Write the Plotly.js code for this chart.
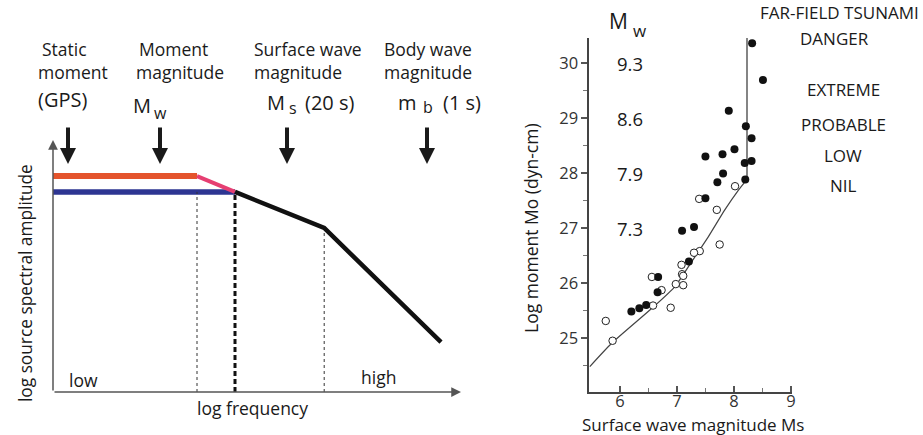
<!DOCTYPE html>
<html>
<head>
<meta charset="utf-8">
<script src="https://cdn.plot.ly/plotly-3.0.1.min.js"></script>
<style>html,body{margin:0;padding:0;background:#fff;}#chart{width:923px;height:435px;}</style>
</head>
<body>
<div id="chart"></div>
<script>
// ---------- Right panel data: Log moment vs surface wave magnitude ----------
const msFilled = [8.32, 8.51, 7.91, 8.21, 8.31, 8.01, 7.80, 7.50, 8.31, 8.19, 7.81, 7.71, 8.20, 7.50, 7.09, 7.30, 7.21, 6.67, 6.66, 6.46, 6.34, 6.20];
const moFilled = [30.36, 29.69, 29.13, 28.85, 28.63, 28.43, 28.34, 28.30, 28.22, 28.18, 27.99, 27.83, 27.88, 27.54, 26.95, 27.02, 26.39, 26.11, 25.83, 25.60, 25.54, 25.48];
const msOpen = [7.39, 8.02, 7.70, 7.75, 7.40, 7.30, 7.08, 7.09, 7.11, 6.98, 7.11, 6.56, 6.73, 6.58, 6.89, 5.75, 5.87];
const moOpen = [27.53, 27.76, 27.33, 26.70, 26.58, 26.55, 26.33, 26.16, 26.13, 25.98, 25.96, 26.11, 25.87, 25.59, 25.55, 25.31, 24.95];
const msCurve = [5.47, 5.85, 6.56, 6.96, 7.26, 7.55, 7.84, 8.08, 8.24];
const moCurve = [24.48, 24.90, 25.54, 25.93, 26.39, 26.84, 27.33, 27.69, 27.90];
const msLimit = [8.23, 8.23];
const moLimit = [27.90, 30.6];
const mwText = ['9.3', '8.6', '7.9', '7.3'];
const mwAtMo = [30, 29, 28, 27];
const xTicks = [6, 7, 8, 9];
const yTicks = [25, 26, 27, 28, 29, 30];
const dangerLabels = ['EXTREME', 'PROBABLE', 'LOW', 'NIL'];

// ---------- Left panel schematic (arbitrary units) ----------
const redX = [0, 3.6],  redY = [8.74, 8.74];
const pinkX = [3.6, 4.55], pinkY = [8.74, 8.10];
const blueX = [0, 4.55], blueY = [8.10, 8.10];
const blackX = [4.55, 6.78, 9.7], blackY = [8.10, 6.64, 2.02];
const cornerX = [3.6, 4.55, 6.78];
const cornerTop = [8.10, 8.10, 6.64];
const arrowX = [0.375, 2.675, 5.85, 9.35];

const W = 923, H = 435;
const px = v => v / W;
const py = v => 1 - v / H;
const FONT = 'Open Sans, sans-serif';
const TXT = '#1a1a1a';

const traces = [
  {x: blueX, y: blueY, xaxis: 'x2', yaxis: 'y2', mode: 'lines', line: {color: '#2d3592', width: 5.5}, hoverinfo: 'skip'},
  {x: redX, y: redY, xaxis: 'x2', yaxis: 'y2', mode: 'lines', line: {color: '#e4542c', width: 6}, hoverinfo: 'skip'},
  {x: pinkX, y: pinkY, xaxis: 'x2', yaxis: 'y2', mode: 'lines', line: {color: '#e63f72', width: 4}, hoverinfo: 'skip'},
  {x: [cornerX[0], cornerX[0]], y: [0, cornerTop[0]], xaxis: 'x2', yaxis: 'y2', mode: 'lines', line: {color: '#333', width: 1, dash: '3px,3px'}, hoverinfo: 'skip'},
  {x: [cornerX[1], cornerX[1]], y: [0, cornerTop[1]], xaxis: 'x2', yaxis: 'y2', mode: 'lines', line: {color: '#111', width: 3, dash: '5px,3px'}, hoverinfo: 'skip'},
  {x: [cornerX[2], cornerX[2]], y: [0, cornerTop[2]], xaxis: 'x2', yaxis: 'y2', mode: 'lines', line: {color: '#333', width: 1, dash: '3px,3px'}, hoverinfo: 'skip'},
  {x: blackX, y: blackY, xaxis: 'x2', yaxis: 'y2', mode: 'lines', line: {color: '#111', width: 4.5}, hoverinfo: 'skip'},

  {x: msLimit, y: moLimit, mode: 'lines', line: {color: '#666', width: 1.6}, hoverinfo: 'skip'},
  {x: msCurve, y: moCurve, mode: 'lines', line: {color: '#444', width: 1.2, shape: 'spline', smoothing: 0.6}, hoverinfo: 'skip'},
  {x: msOpen, y: moOpen, mode: 'markers', marker: {symbol: 'circle', size: 7.5, color: '#fff', line: {color: '#222', width: 1}}, hoverinfo: 'skip'},
  {x: msFilled, y: moFilled, mode: 'markers', marker: {symbol: 'circle', size: 8, color: '#111'}, hoverinfo: 'skip'}
];

const ann = [];
function txt(t, x, y, size, xanchor, extra) {
  ann.push(Object.assign({text: t, x: px(x), y: py(y), xref: 'paper', yref: 'paper', showarrow: false,
    xanchor: xanchor || 'left', yanchor: 'middle', font: {family: FONT, size: size, color: TXT}}, extra || {}));
}
const HS = 17.5, BS = 20, SS = 16;
// Left header labels
txt('Static', 40, 49, HS); txt('moment', 36, 72, HS); txt('(GPS)', 36, 100, BS);
txt('Moment', 137, 49, HS); txt('magnitude', 134, 72, HS);
txt('M', 131, 106, BS); txt('w', 152, 113, SS);
txt('Surface wave', 252, 49, HS); txt('magnitude', 252, 72, HS);
txt('M', 265, 102, BS); txt('s', 287, 108, SS); txt('(20 s)', 303, 102, BS);
txt('Body wave', 382, 49, HS); txt('magnitude', 382, 72, HS);
txt('m', 396, 102, BS); txt('b', 421, 107, SS); txt('(1 s)', 441, 102, BS);
txt('low', 67, 380, HS); txt('high', 359, 377, HS);
txt('log frequency', 252, 408, HS, 'center');
txt('log source spectral amplitude', 25, 283, 17.3, 'center', {textangle: -90});

// down arrows
arrowX.forEach(function (xv) {
  ann.push({x: xv, y: py(164), xref: 'x2', yref: 'paper', text: '', showarrow: true,
    ax: 0, ay: -38, arrowhead: 2, arrowsize: 0.8, arrowwidth: 4, arrowcolor: '#1a1a1a', standoff: 0});
});
// left axes with arrow heads
ann.push({x: 10.2, y: 0, xref: 'x2', yref: 'y2', ax: 0, ay: 0, axref: 'x2', ayref: 'y2', text: '', showarrow: true,
  arrowhead: 2, arrowsize: 1.3, arrowwidth: 1.5, arrowcolor: '#555', standoff: 0});
ann.push({x: 0, y: 10.2, xref: 'x2', yref: 'y2', ax: 0, ay: 0, axref: 'x2', ayref: 'y2', text: '', showarrow: true,
  arrowhead: 2, arrowsize: 1.3, arrowwidth: 1.5, arrowcolor: '#555', standoff: 0});

// Right panel labels
txt('M', 607, 21, 21); txt('w', 631, 30, 17);
mwText.forEach(function (t, i) {
  ann.push({x: 6.18, y: mwAtMo[i], xref: 'x', yref: 'y', text: t, showarrow: false, xanchor: 'center', yanchor: 'middle',
    font: {family: FONT, size: 18.5, color: TXT}});
});
txt('FAR-FIELD TSUNAMI', 839, 13, 17, 'center');
txt('DANGER', 834, 38, 17, 'center');
const dangerY = [89, 124, 155, 186];
dangerLabels.forEach(function (t, i) { txt(t, 843, dangerY[i], 17, 'center'); });
txt('Log moment Mo (dyn-cm)', 531, 228, 17.5, 'center', {textangle: -90});
txt('Surface wave magnitude Ms', 693, 424, 17, 'center');

const layout = {
  width: W, height: H, margin: {l: 0, r: 0, t: 0, b: 0}, paper_bgcolor: '#fff', plot_bgcolor: 'rgba(0,0,0,0)',
  showlegend: false, font: {family: FONT, color: TXT},
  xaxis: {domain: [px(589), px(792)], range: [5.456, 9.02], showgrid: false, zeroline: false,
    showline: true, linecolor: '#444', linewidth: 1.8, tickmode: 'array', tickvals: xTicks,
    ticks: 'inside', ticklen: 6, tickwidth: 1.5, tickcolor: '#555', ticklabelstandoff: -7,
    minor: {tickmode: 'array', tickvals: [6.5, 7.5, 8.5], ticks: 'inside', ticklen: 4, tickcolor: '#777', tickwidth: 1},
    tickfont: {family: FONT, size: 16.5, color: '#333'}, fixedrange: true},
  yaxis: {domain: [py(392), py(38)], range: [24.018, 30.455], showgrid: false, zeroline: false,
    showline: true, linecolor: '#444', linewidth: 1.6, tickmode: 'array', tickvals: yTicks,
    ticks: 'outside', ticklen: 6, tickwidth: 1.5, tickcolor: '#555',
    minor: {tickmode: 'array', tickvals: [24.5, 25.5, 26.5, 27.5, 28.5, 29.5], ticks: 'outside', ticklen: 4, tickcolor: '#777', tickwidth: 1},
    tickfont: {family: FONT, size: 16.5, color: '#333'}, fixedrange: true},
  xaxis2: {domain: [px(53), px(453)], range: [0, 10], visible: false, fixedrange: true},
  yaxis2: {domain: [py(392), py(145)], range: [0, 10], visible: false, fixedrange: true},
  annotations: ann
};

Plotly.newPlot('chart', traces, layout, {displayModeBar: false, staticPlot: true});
</script>
</body>
</html>
